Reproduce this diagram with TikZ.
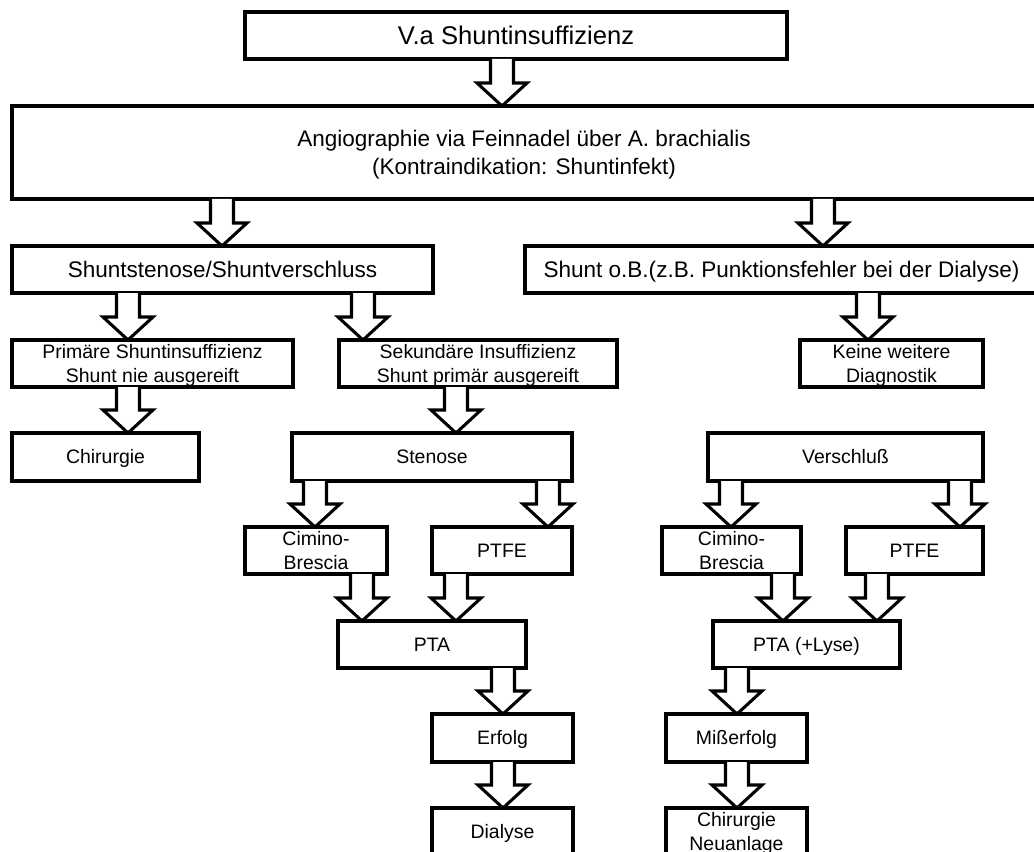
\documentclass[tikz,border=0pt]{standalone}
\usepackage{fontspec}
\setmainfont{Liberation Sans}
\usetikzlibrary{calc}
\tikzset{
    box/.style ={
        shape=rectangle,
        draw=black,
        line width=2.3pt,
        outer sep=0pt,
        inner sep=0pt,
        align=center,
        text height=13.2pt,
        text depth=3.1pt,
        font=\fontsize{14.6}{18}\selectfont
    },
    twoline/.style ={
        text height=31.2pt
    },
    midbox/.style ={
        box,
        text height=15.3pt,
        text depth=3.6pt,
        font=\fontsize{16.9}{21}\selectfont
    },
    midtwo/.style ={
        text height=36.3pt
    },
    topbox/.style ={
        box,
        text height=17.4pt,
        text depth=4.1pt,
        font=\fontsize{19.2}{23}\selectfont
    },
    blockarrow/.style ={
        draw=black,
        fill=white,
        line width=2.3pt,
        line join=miter
    }
}
% hollow block arrow at x = #1, from node #2 down to node #3
\newcommand{\flowarrow}[3]{%
    \coordinate (fa-s) at (#1,0 |- #2.south);
    \coordinate (fa-t) at (#1,0 |- #3.north);
    \draw[blockarrow] ($(fa-s)+(-11.5,0)$) -- ($(fa-t)+(-11.5,23)$)
        -- ($(fa-t)+(-25,23)$) -- (fa-t) -- ($(fa-t)+(25,23)$)
        -- ($(fa-t)+(11.5,23)$) -- ($(fa-s)+(11.5,0)$);
}

\begin{document}
\begin{tikzpicture}[x=0.75pt,y=0.75pt]
    \useasboundingbox (0,0) rectangle (1034,-852);
    \clip (0,0) rectangle (1034,-852);
    \node[topbox, minimum width=406.5pt, minimum height=35.25pt] (va) at(516,-35.5) {V.a Shuntinsuffizienz};
    \node[midbox, midtwo, minimum width=768pt, minimum height=69.75pt] (angio) at(524,-152.5) {Angiographie via Feinnadel über A. brachialis\\(Kontraindikation: Shuntinfekt)};
    \node[midbox, minimum width=315.75pt, minimum height=35.25pt] (shst) at(222.5,-269.5) {Shuntstenose/Shuntverschluss};
    \node[midbox, minimum width=384.75pt, minimum height=35.25pt] (shob) at(781.5,-269.5) {Shunt o.B.(z.B. Punktionsfehler bei der Dialyse)};
    \node[box, twoline, minimum width=210.75pt, minimum height=35.25pt] (prim) at(152.5,-363.5) {Primäre Shuntinsuffizienz\\Shunt nie ausgereift};
    \node[box, twoline, minimum width=208.5pt, minimum height=35.25pt] (sek) at(478,-363.5) {Sekundäre Insuffizienz\\Shunt primär ausgereift};
    \node[box, twoline, minimum width=137.25pt, minimum height=35.25pt] (keine) at(891.5,-363.5) {Keine weitere\\Diagnostik};
    \node[box, minimum width=140.25pt, minimum height=36pt] (chir) at(105.5,-457) {Chirurgie};
    \node[box, minimum width=210pt, minimum height=36pt] (sten) at(432,-457) {Stenose};
    \node[box, minimum width=206.25pt, minimum height=36pt] (versch) at(845.5,-457) {Verschluß};
    \node[box, twoline, minimum width=106.5pt, minimum height=35.25pt] (ciml) at(316,-550.5) {Cimino-\\Brescia};
    \node[box, minimum width=105pt, minimum height=35.25pt] (ptfel) at(502,-550.5) {PTFE};
    \node[box, twoline, minimum width=104.25pt, minimum height=35.25pt] (cimr) at(731.5,-550.5) {Cimino-\\Brescia};
    \node[box, minimum width=102.75pt, minimum height=35.25pt] (ptfer) at(914.5,-550.5) {PTFE};
    \node[box, minimum width=141pt, minimum height=35.25pt] (pta) at(432,-644.5) {PTA};
    \node[box, minimum width=140.25pt, minimum height=35.25pt] (ptal) at(806.5,-644.5) {PTA (+Lyse)};
    \node[box, minimum width=105.75pt, minimum height=36pt] (erf) at(502.5,-738) {Erfolg};
    \node[box, minimum width=105.75pt, minimum height=36pt] (miss) at(736.5,-738) {Mißerfolg};
    \node[box, minimum width=105.75pt, minimum height=36pt] (dial) at(502.5,-832) {Dialyse};
    \node[box, twoline, minimum width=105.75pt, minimum height=36pt] (neu) at(736.5,-832) {Chirurgie\\Neuanlage};
    \flowarrow{502}{va}{angio}
    \flowarrow{222}{angio}{shst}
    \flowarrow{823}{angio}{shob}
    \flowarrow{128}{shst}{prim}
    \flowarrow{363}{shst}{sek}
    \flowarrow{868}{shob}{keine}
    \flowarrow{128}{prim}{chir}
    \flowarrow{456}{sek}{sten}
    \flowarrow{315}{sten}{ciml}
    \flowarrow{548}{sten}{ptfel}
    \flowarrow{731}{versch}{cimr}
    \flowarrow{960}{versch}{ptfer}
    \flowarrow{362}{ciml}{pta}
    \flowarrow{456}{ptfel}{pta}
    \flowarrow{783}{cimr}{ptal}
    \flowarrow{877}{ptfer}{ptal}
    \flowarrow{503}{pta}{erf}
    \flowarrow{503}{erf}{dial}
    \flowarrow{737}{ptal}{miss}
    \flowarrow{737}{miss}{neu}
\end{tikzpicture}
\end{document}
